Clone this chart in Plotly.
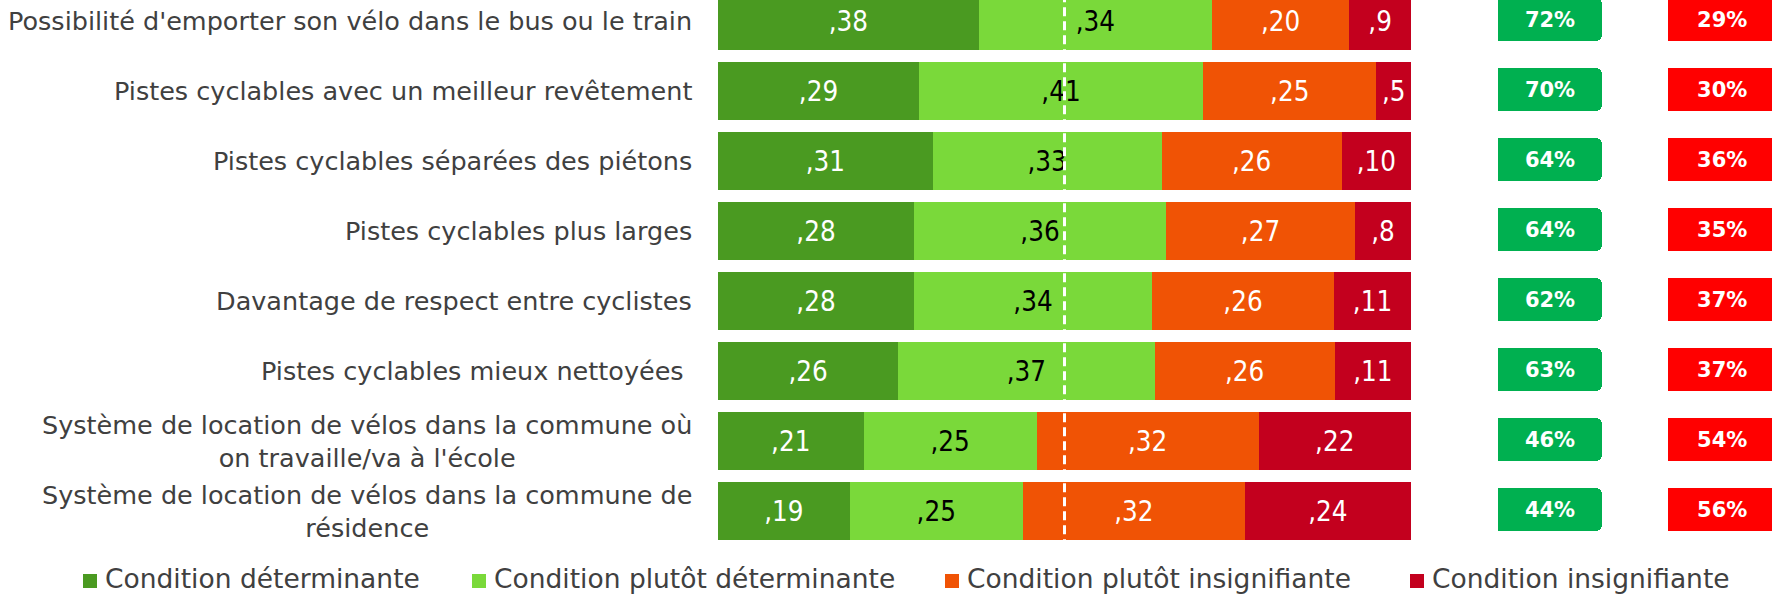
import plotly.graph_objects as go

# ---------------- data ----------------
categories = [
    "Possibilité d'emporter son vélo dans le bus ou le train",
    "Pistes cyclables avec un meilleur revêtement",
    "Pistes cyclables séparées des piétons",
    "Pistes cyclables plus larges",
    "Davantage de respect entre cyclistes",
    "Pistes cyclables mieux nettoyées ",
    "Système de location de vélos dans la commune où<br>on travaille/va à l'école",
    "Système de location de vélos dans la commune de<br>résidence",
]
series_names = [
    "Condition déterminante",
    "Condition plutôt déterminante",
    "Condition plutôt insignifiante",
    "Condition insignifiante",
]
determinante = [38, 29, 31, 28, 28, 26, 21, 19]
plutot_determinante = [34, 41, 33, 36, 34, 37, 25, 25]
plutot_insignifiante = [20, 25, 26, 27, 26, 26, 32, 32]
insignifiante = [9, 5, 10, 8, 11, 11, 22, 24]
total_determinant = [72, 70, 64, 64, 62, 63, 46, 44]
total_insignifiant = [29, 30, 36, 35, 37, 37, 54, 56]

series_values = [determinante, plutot_determinante, plutot_insignifiante, insignifiante]
series_colors = ["#4A9A21", "#7AD93A", "#F05305", "#C3001E"]
text_colors = ["white", "black", "white", "white"]
box_green = "#00B050"
box_red = "#FF0000"

LABEL_FONT = "DejaVu Sans"
SEG_FONT = "DejaVu Sans Condensed"
TEXT_GREY = "#404040"
W, H = 1772, 594
ROW0_PX, ROW_PX = 21.3, 70.0

rows = list(range(len(categories)))

fig = go.Figure()

for name, vals, col, tcol in zip(series_names, series_values, series_colors, text_colors):
    fig.add_trace(go.Bar(
        y=rows, x=vals, orientation="h", name=name,
        marker=dict(color=col, line=dict(width=0)),
        width=0.823,
        text=[f",{v}" for v in vals],
        textposition="inside", insidetextanchor="middle",
        constraintext="none",
        textfont=dict(family=SEG_FONT, size=27.5, color=tcol),
        xaxis="x", yaxis="y", showlegend=False, hoverinfo="skip",
    ))

for vals, col, xa in [(total_determinant, box_green, "x2"), (total_insignifiant, box_red, "x3")]:
    fig.add_trace(go.Bar(
        y=rows, x=[1] * len(rows), orientation="h",
        marker=dict(color=col, cornerradius=6, line=dict(width=0)),
        width=0.61, offset=-0.33,
        text=[f"<b>{v}%</b>" for v in vals],
        textposition="inside", insidetextanchor="middle", constraintext="none",
        textfont=dict(family="DejaVu Sans", size=21, color="white"),
        xaxis=xa, yaxis="y", showlegend=False, hoverinfo="skip",
    ))

# category labels
annotations = []
for i, cat in enumerate(categories):
    annotations.append(dict(
        x=694 / W, xref="paper", xanchor="right",
        y=i, yref="y", yanchor="middle",
        text=cat, align="center", showarrow=False,
        font=dict(family=LABEL_FONT, size=25.5, color=TEXT_GREY),
    ))

# custom legend
shapes = []
legend_x = [83, 472, 945, 1410]
for lx, name, col in zip(legend_x, series_names, series_colors):
    shapes.append(dict(
        type="rect", xref="paper", yref="paper",
        x0=lx / W, x1=(lx + 14) / W,
        y0=1 - 588 / H, y1=1 - 574 / H,
        fillcolor=col, line=dict(width=0),
    ))
    annotations.append(dict(
        x=(lx + 20) / W, xref="paper", xanchor="left",
        y=-2 / H, yref="paper", yanchor="bottom",
        text=name, showarrow=False,
        font=dict(family=LABEL_FONT, size=26.5, color=TEXT_GREY),
    ))

# 50% dashed reference line
shapes.append(dict(
    type="line", xref="x", yref="y",
    x0=0.5, x1=0.5, y0=-0.6, y1=7.41,
    line=dict(color="white", width=3, dash="9px,5px"),
    layer="above",
))

fig.update_layout(
    width=W, height=H,
    margin=dict(l=0, r=0, t=0, b=0),
    paper_bgcolor="white", plot_bgcolor="white",
    barmode="stack", barnorm="fraction",
    showlegend=False,
    xaxis=dict(domain=[718 / W, 1411 / W], range=[0, 1], visible=False, fixedrange=True),
    xaxis2=dict(domain=[1498 / W, 1602 / W], range=[0, 1], visible=False, anchor="y", fixedrange=True),
    xaxis3=dict(domain=[1668 / W, 1.0], range=[0, 0.96], visible=False, anchor="y", fixedrange=True),
    yaxis=dict(range=[(H - ROW0_PX) / ROW_PX, -ROW0_PX / ROW_PX], visible=False, fixedrange=True),
    annotations=annotations,
    shapes=shapes,
)

fig.write_html(
    "out.html",
    config={"displayModeBar": False},
    post_script="document.body.style.margin='0';document.body.style.overflow='hidden';",
)
